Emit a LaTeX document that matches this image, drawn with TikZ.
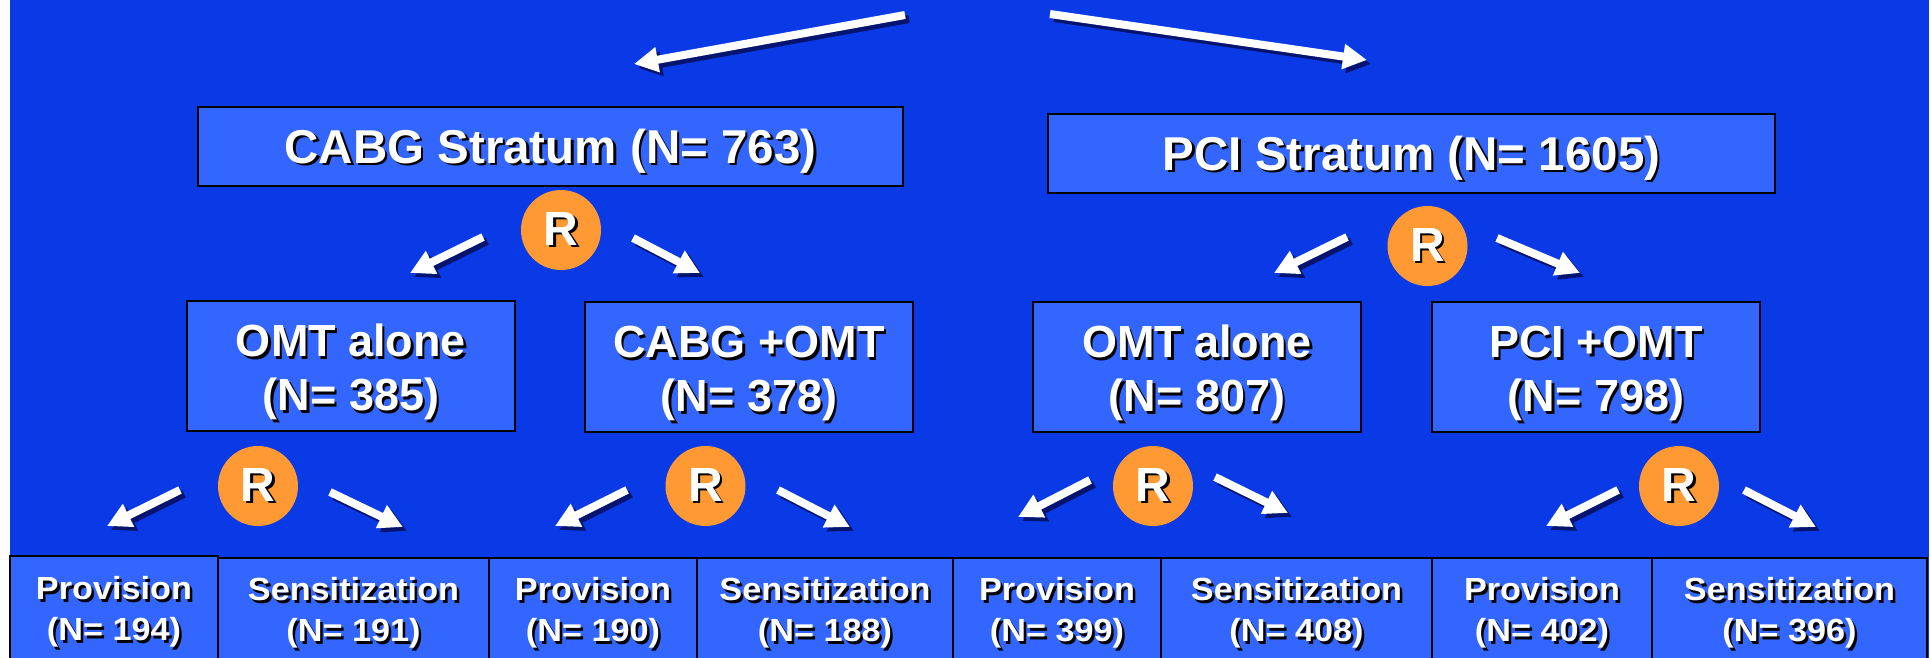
\documentclass[tikz,border=0pt]{standalone}
\usepackage{fontspec}
\setmainfont{Liberation Sans}
\newfontfamily\widefont[FakeStretch=1.07]{Liberation Sans}
\usetikzlibrary{arrows.meta}

\definecolor{bgblue}{RGB}{10,58,230}
\definecolor{boxblue}{RGB}{51,102,255}
\definecolor{rorange}{RGB}{255,153,51}
\definecolor{arrowshade}{RGB}{5,20,110}

% white lettering with a small black drop shadow
\newcommand\shd[1]{\leavevmode\rlap{\kern2.5pt\raisebox{-2.5pt}{\color{black}#1}}#1}
% one-line stratum label, two-line arm label (struts set the vertical placement)
\newcommand\oneline[1]{\rule[-10pt]{0pt}{56pt}\shd{#1}}
\newcommand\twolines[2]{\rule{0pt}{47pt}\shd{#1}\\\rule[-10pt]{0pt}{10pt}\shd{#2}}
% white block arrow with its dark shadow
\newcommand\blockarrow[2]{%
  \draw[arrsh] ([shift={(4,4)}]#1) -- ([shift={(4,4)}]#2);
  \draw[arr] (#1) -- (#2);}

\begin{document}
\begin{tikzpicture}[x=1pt,y=-1pt,
  box/.style={draw=black, line width=2.2pt, fill=boxblue, inner sep=0pt,
    align=center, text=white},
  stratum/.style={box, minimum height=79pt,
    font=\fontsize{47.5}{56}\selectfont\bfseries},
  arm/.style={box, minimum width=328pt, minimum height=130pt,
    font=\fontsize{45}{54}\selectfont\bfseries},
  leaf/.style={box, minimum height=112pt,
    font=\widefont\fontsize{32}{41}\selectfont\bfseries},
  rnode/.style={circle, fill=rorange, minimum size=80pt, inner sep=0pt,
    text=white, font=\fontsize{48}{48}\selectfont\bfseries},
  arr/.style={white, line width=8pt, -{Triangle[width=24pt,length=24pt]}},
  arrsh/.style={arrowshade, line width=8pt, -{Triangle[width=24pt,length=24pt]}}]

\useasboundingbox (0,0) rectangle (1931,658);
\fill[white] (0,0) rectangle (1931,658);
\fill[bgblue] (10,0) rectangle (1929,658);

% strata
\node[stratum, minimum width=705pt] (cabg) at (550.5,146.5) {\oneline{CABG Stratum (N= 763)}};
\node[stratum, minimum width=727pt] (pci) at (1411.5,153.5) {\oneline{PCI Stratum (N= 1605)}};

% first randomisation
\node[rnode] (r1) at (561,230) {\shd{R}};
\node[rnode] (r2) at (1427.5,246) {\shd{R}};

% treatment arms
\node[arm] (omtA) at (351,366) {\twolines{OMT alone}{(N= 385)}};
\node[arm] (cabgomt) at (749,367) {\twolines{CABG +OMT}{(N= 378)}};
\node[arm] (omtB) at (1197,367) {\twolines{OMT alone}{(N= 807)}};
\node[arm] (pciomt) at (1596,367) {\twolines{PCI +OMT}{(N= 798)}};

% second randomisation
\node[rnode] (r3) at (258,486) {\shd{R}};
\node[rnode] (r4) at (705.5,486) {\shd{R}};
\node[rnode] (r5) at (1153,486) {\shd{R}};
\node[rnode] (r6) at (1679,486) {\shd{R}};

% insulin strategy groups
\node[leaf, minimum width=208pt, minimum height=114pt] (p1) at (114,613) {\shd{Provision}\\\shd{(N= 194)}};
\node[leaf, minimum width=271pt] (s1) at (353.5,614) {\shd{Sensitization}\\\shd{(N= 191)}};
\node[leaf, minimum width=208pt] (p2) at (593,614) {\shd{Provision}\\\shd{(N= 190)}};
\node[leaf, minimum width=256pt] (s2) at (825,614) {\shd{Sensitization}\\\shd{(N= 188)}};
\node[leaf, minimum width=208pt] (p3) at (1057,614) {\shd{Provision}\\\shd{(N= 399)}};
\node[leaf, minimum width=271pt] (s3) at (1296.5,614) {\shd{Sensitization}\\\shd{(N= 408)}};
\node[leaf, minimum width=220pt] (p4) at (1542,614) {\shd{Provision}\\\shd{(N= 402)}};
\node[leaf, minimum width=275pt] (s4) at (1789.5,614) {\shd{Sensitization}\\\shd{(N= 396)}};

% arrow end points
\coordinate (t0a) at (905,15);   \coordinate (h0a) at (634,64);
\coordinate (t0b) at (1050,14);  \coordinate (h0b) at (1367,60);
\coordinate (t1a) at (483,237);  \coordinate (h1a) at (410,273);
\coordinate (t1b) at (633,238);  \coordinate (h1b) at (700,273);
\coordinate (t2a) at (1347,237); \coordinate (h2a) at (1274,273);
\coordinate (t2b) at (1497,238); \coordinate (h2b) at (1580,273);
\coordinate (t3a) at (180,490);  \coordinate (h3a) at (107,526);
\coordinate (t3b) at (330,492);  \coordinate (h3b) at (403,527);
\coordinate (t4a) at (627,490);  \coordinate (h4a) at (555,526);
\coordinate (t4b) at (778,490);  \coordinate (h4b) at (850,527);
\coordinate (t5a) at (1090,480); \coordinate (h5a) at (1018,517);
\coordinate (t5b) at (1215,477); \coordinate (h5b) at (1288,513);
\coordinate (t6a) at (1618,490); \coordinate (h6a) at (1546,526);
\coordinate (t6b) at (1744,490); \coordinate (h6b) at (1816,527);

\blockarrow{t0a}{h0a}
\blockarrow{t0b}{h0b}
\blockarrow{t1a}{h1a}
\blockarrow{t1b}{h1b}
\blockarrow{t2a}{h2a}
\blockarrow{t2b}{h2b}
\blockarrow{t3a}{h3a}
\blockarrow{t3b}{h3b}
\blockarrow{t4a}{h4a}
\blockarrow{t4b}{h4b}
\blockarrow{t5a}{h5a}
\blockarrow{t5b}{h5b}
\blockarrow{t6a}{h6a}
\blockarrow{t6b}{h6b}
\end{tikzpicture}
\end{document}
